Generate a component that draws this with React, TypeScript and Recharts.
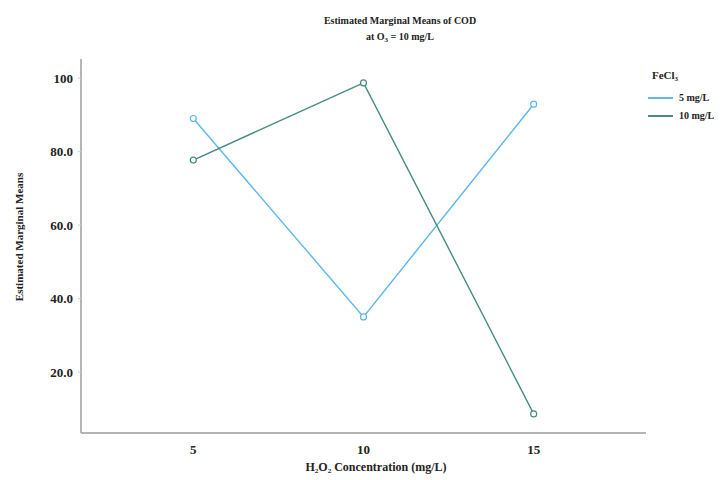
import React from 'react';
import { LineChart, Line, XAxis, YAxis } from 'recharts';

const concentrations = [5, 10, 15];
const fecl5 = [89.0, 35.0, 92.9];
const fecl10 = [77.7, 98.7, 8.6];
const yTicks = [20, 40, 60, 80, 100];

const data = concentrations.map((c, i) => ({ c, a: fecl5[i], b: fecl10[i] }));

const BLUE = '#5cb6f2';
const GREEN = '#458c82';
const FONT = '"Liberation Serif", "DejaVu Serif", serif';

const txt: React.CSSProperties = {
  position: 'absolute',
  fontFamily: FONT,
  fontWeight: 'bold',
  color: '#222',
  whiteSpace: 'nowrap',
  lineHeight: 1,
};

const sub: React.CSSProperties = { fontSize: 7, verticalAlign: '-2px', lineHeight: 0 };

const dot = (color: string) => ({ r: 3, stroke: color, strokeWidth: 1.2, fill: '#fff' });

export default function App() {
  return (
    <div style={{ position: 'absolute', left: 0, top: 0, width: 723, height: 480, background: '#fff' }}>
      <LineChart width={723} height={480} data={data} margin={{ top: 59, right: 77, bottom: 17, left: 21 }}>
        <XAxis
          dataKey="c"
          type="number"
          domain={[1.7, 18.3]}
          ticks={concentrations}
          allowDataOverflow
          tickLine={false}
          axisLine={{ stroke: '#b5b5b5', strokeWidth: 2 }}
          tick={{ fontFamily: FONT, fontWeight: 'bold', fontSize: 13, fill: '#222' }}
          height={30}
          tickMargin={6}
        />
        <YAxis
          type="number"
          domain={[3.4, 105.2]}
          ticks={yTicks}
          allowDataOverflow
          width={60}
          tickFormatter={(v: number) => (v === 100 ? '100' : v.toFixed(1))}
          tickLine={{ stroke: '#d0d0d0' }}
          tickSize={3}
          axisLine={{ stroke: '#b5b5b5', strokeWidth: 2 }}
          tick={{ fontFamily: FONT, fontWeight: 'bold', fontSize: 13, fill: '#222' }}
          tickMargin={5}
        />
        <Line dataKey="a" stroke={BLUE} strokeWidth={1.4} dot={dot(BLUE)} isAnimationActive={false} />
        <Line dataKey="b" stroke={GREEN} strokeWidth={1.4} dot={dot(GREEN)} isAnimationActive={false} />
      </LineChart>

      <div style={{ ...txt, left: 0, width: 800, top: 16, fontSize: 10, textAlign: 'center' }}>
        Estimated Marginal Means of COD
      </div>
      <div style={{ ...txt, left: 0, width: 800, top: 32, fontSize: 10, textAlign: 'center' }}>
        at O<span style={sub}>3</span> = 10 mg/L
      </div>

      <div
        style={{
          ...txt,
          left: 19,
          top: 237,
          fontSize: 11,
          transform: 'translate(-50%, -50%) rotate(-90deg)',
        }}
      >
        Estimated Marginal Means
      </div>

      <div style={{ ...txt, left: 0, width: 752, top: 461, fontSize: 12, textAlign: 'center' }}>
        H<span style={sub}>2</span>O<span style={sub}>2</span> Concentration (mg/L)
      </div>

      <div style={{ ...txt, left: 652, top: 70, fontSize: 11 }}>
        FeCl<span style={sub}>3</span>
      </div>
      <div style={{ position: 'absolute', left: 648, top: 97, width: 25, height: 2, background: BLUE }} />
      <div style={{ ...txt, left: 679, top: 93, fontSize: 10 }}>5 mg/L</div>
      <div style={{ position: 'absolute', left: 648, top: 115, width: 25, height: 2, background: GREEN }} />
      <div style={{ ...txt, left: 679, top: 111, fontSize: 10 }}>10 mg/L</div>
    </div>
  );
}
